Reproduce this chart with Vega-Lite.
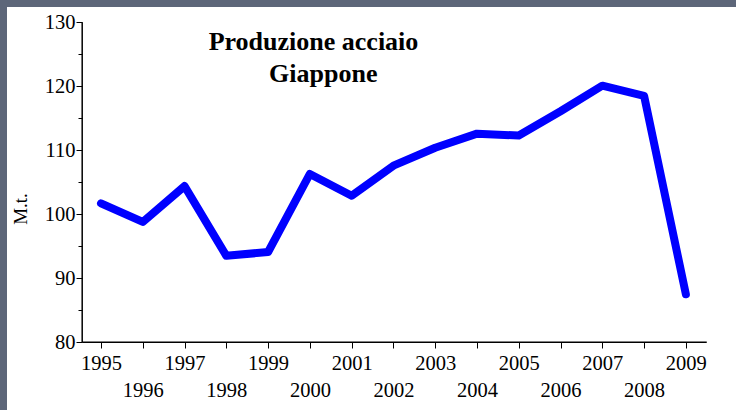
{
  "$schema": "https://vega.github.io/schema/vega-lite/v6.json",
  "autosize": {"type": "none"},
  "padding": {"left": 7, "top": 7, "right": 0, "bottom": 0},
  "width": 729,
  "height": 403,
  "background": "#5d6679",
  "config": {
    "view": {"fill": "white", "stroke": null},
    "font": "Liberation Serif"
  },
  "title": {
    "text": ["Produzione acciaio", "\u200b\u00a0\u00a0\u00a0Giappone"],
    "font": "Liberation Serif",
    "fontSize": 26,
    "fontWeight": "bold",
    "color": "black",
    "anchor": "middle",
    "frame": "group",
    "dx": -58,
    "dy": 84,
    "lineHeight": 32
  },
  "data": {
    "values": [
      {"anno": 1995, "mt": 101.7},
      {"anno": 1996, "mt": 98.8},
      {"anno": 1997, "mt": 104.4},
      {"anno": 1998, "mt": 93.5},
      {"anno": 1999, "mt": 94.1},
      {"anno": 2000, "mt": 106.3},
      {"anno": 2001, "mt": 102.9},
      {"anno": 2002, "mt": 107.6},
      {"anno": 2003, "mt": 110.4},
      {"anno": 2004, "mt": 112.6},
      {"anno": 2005, "mt": 112.3},
      {"anno": 2006, "mt": 116.1},
      {"anno": 2007, "mt": 120.1},
      {"anno": 2008, "mt": 118.5},
      {"anno": 2009, "mt": 87.5}
    ]
  },
  "layer": [
    {
      "data": {"values": [{}]},
      "mark": {"type": "rule", "color": "black", "strokeWidth": 1.5},
      "encoding": {
        "x": {"datum": 1994.55, "type": "quantitative"},
        "y": {"datum": 80, "type": "quantitative"},
        "y2": {"datum": 130}
      }
    },
    {
      "data": {"values": [{}]},
      "mark": {"type": "rule", "color": "black", "strokeWidth": 1.5},
      "encoding": {
        "y": {"datum": 80, "type": "quantitative"},
        "x": {"datum": 1994.55, "type": "quantitative"},
        "x2": {"datum": 2009.5}
      }
    },
    {
      "mark": {"type": "line", "color": "#0000ff", "strokeWidth": 8, "strokeCap": "round", "strokeJoin": "round"},
      "encoding": {
        "x": {
          "field": "anno",
          "type": "quantitative",
          "scale": {"domain": [1992.75, 2010.2], "nice": false, "zero": false},
          "axis": {
            "orient": "bottom",
            "offset": -68,
            "values": [1995, 1996, 1997, 1998, 1999, 2000, 2001, 2002, 2003, 2004, 2005, 2006, 2007, 2008, 2009],
            "format": "d",
            "domain": false,
            "grid": false,
            "ticks": true,
            "tickSize": 6,
            "tickColor": "black",
            "tickWidth": 1,
            "labelFont": "Liberation Serif",
            "labelFontSize": 20.5,
            "labelColor": "black",
            "labelPadding": {"condition": {"test": "datum.value % 2 == 0", "value": 32}, "value": 5},
            "title": null
          }
        },
        "y": {
          "field": "mt",
          "type": "quantitative",
          "scale": {"domain": [69.4, 132.4], "nice": false, "zero": false},
          "axis": {
            "orient": "left",
            "offset": -75,
            "values": [80, 85, 90, 95, 100, 105, 110, 115, 120, 125, 130],
            "labelExpr": "datum.value % 10 == 0 ? datum.label : ''",
            "domain": false,
            "grid": false,
            "tickSize": {"condition": {"test": "datum.value % 10 != 0", "value": 4}, "value": 6},
            "tickColor": "black",
            "tickWidth": 1,
            "labelFont": "Liberation Serif",
            "labelFontSize": 20.5,
            "labelColor": "black",
            "labelPadding": 1,
            "title": "M.t.",
            "titleFont": "Liberation Serif",
            "titleFontSize": 19,
            "titleFontWeight": "normal",
            "titleColor": "black",
            "titlePadding": 14
          }
        }
      }
    }
  ]
}
